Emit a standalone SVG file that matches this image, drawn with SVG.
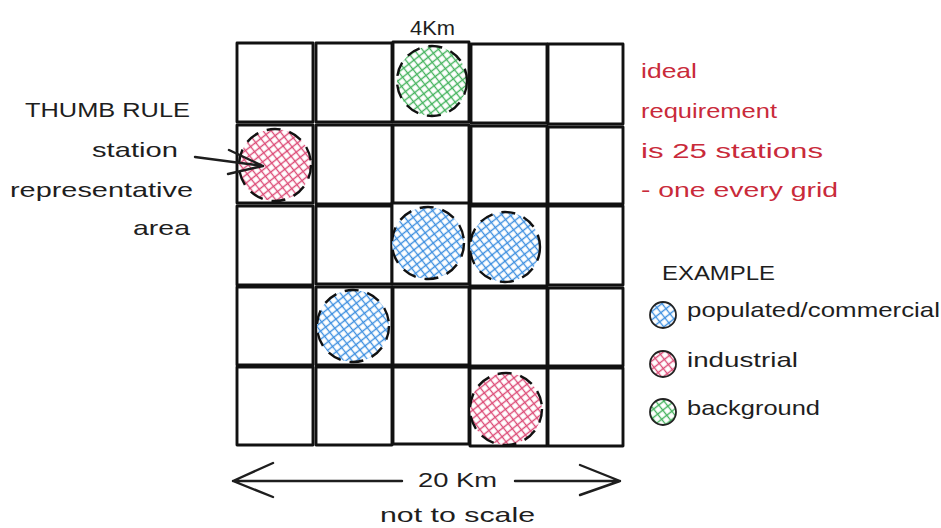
<svg xmlns="http://www.w3.org/2000/svg" width="941" height="528" viewBox="0 0 941 528">
<defs>
<pattern id="hb" width="6.5" height="6.5" patternUnits="userSpaceOnUse" patternTransform="rotate(-38)">
<rect width="6.5" height="6.5" fill="#fff"/><path d="M0 3.25H6.5M3.25 0V6.5" stroke="#3d8fe0" stroke-width="1.3"/>
</pattern>
<pattern id="hr" width="6.5" height="6.5" patternUnits="userSpaceOnUse" patternTransform="rotate(-38)">
<rect width="6.5" height="6.5" fill="#fff"/><path d="M0 3.25H6.5M3.25 0V6.5" stroke="#dc4a76" stroke-width="1.3"/>
</pattern>
<pattern id="hg" width="6.5" height="6.5" patternUnits="userSpaceOnUse" patternTransform="rotate(-38)">
<rect width="6.5" height="6.5" fill="#fff"/><path d="M0 3.25H6.5M3.25 0V6.5" stroke="#44b35d" stroke-width="1.3"/>
</pattern>
</defs>
<style>
.sq{fill:#fff;stroke:#111;stroke-width:2.9;stroke-linejoin:round}
.st{stroke:#111;stroke-width:2.4;stroke-dasharray:14 9}
.lg{stroke:#222;stroke-width:1.8}
.t{font-family:"Liberation Sans","DejaVu Sans",sans-serif;font-size:21px;fill:#1e1e1e}
.r{fill:#c92a3a}
.ln{stroke:#1e1e1e;stroke-width:2.4;fill:none;stroke-linecap:round;stroke-linejoin:round}
</style>
<rect width="941" height="528" fill="#fff"/>
<g id="grid">
<rect class="sq" x="237" y="43" width="76" height="79"/>
<rect class="sq" x="316" y="43" width="76" height="79"/>
<rect class="sq" x="393" y="42" width="76" height="80"/>
<rect class="sq" x="471" y="44" width="76" height="79"/>
<rect class="sq" x="548" y="44" width="75" height="80"/>
<rect class="sq" x="237" y="125" width="76" height="78"/>
<rect class="sq" x="316" y="125" width="76" height="79"/>
<rect class="sq" x="393" y="125" width="76" height="79"/>
<rect class="sq" x="471" y="126" width="76" height="78"/>
<rect class="sq" x="548" y="127" width="75" height="77"/>
<rect class="sq" x="237" y="206" width="76" height="79"/>
<rect class="sq" x="316" y="206" width="76" height="78"/>
<rect class="sq" x="392" y="203" width="77" height="81"/>
<rect class="sq" x="470" y="206" width="77" height="80"/>
<rect class="sq" x="548" y="206" width="75" height="79"/>
<rect class="sq" x="237" y="287" width="76" height="78"/>
<rect class="sq" x="316" y="287" width="76" height="78"/>
<rect class="sq" x="393" y="287" width="76" height="78"/>
<rect class="sq" x="470" y="288" width="77" height="78"/>
<rect class="sq" x="548" y="288" width="75" height="78"/>
<rect class="sq" x="237" y="367" width="76" height="78"/>
<rect class="sq" x="316" y="367" width="76" height="78"/>
<rect class="sq" x="393" y="367" width="76" height="77"/>
<rect class="sq" x="470" y="368" width="77" height="78"/>
<rect class="sq" x="548" y="368" width="75" height="78"/>
</g>
<g id="stations">
<circle class="st" cx="432" cy="81" r="35" fill="url(#hg)"/>
<circle class="st" cx="275" cy="165" r="36" fill="url(#hr)"/>
<circle class="st" cx="428" cy="243" r="36" fill="url(#hb)"/>
<circle class="st" cx="505" cy="247" r="35" fill="url(#hb)"/>
<circle class="st" cx="353" cy="326" r="36" fill="url(#hb)"/>
<circle class="st" cx="506" cy="409" r="36" fill="url(#hr)"/>
</g>
<g id="connectors">
<path class="ln" d="M195 157L263 166M229 150L263 166L228 174"/>
<path class="ln" d="M233 481L402 481M273 463L233 481L273 497"/>
<path class="ln" d="M515 481L620 481M580 465L620 481L580 495"/>
</g>
<g id="labels">
<text class="t" x="410" y="35" textLength="45" lengthAdjust="spacingAndGlyphs">4Km</text>
<text class="t" x="25" y="117" textLength="165" lengthAdjust="spacingAndGlyphs">THUMB RULE</text>
<text class="t" x="92" y="157" textLength="86" lengthAdjust="spacingAndGlyphs">station</text>
<text class="t" x="10" y="197" textLength="183" lengthAdjust="spacingAndGlyphs">representative</text>
<text class="t" x="133" y="235" textLength="57" lengthAdjust="spacingAndGlyphs">area</text>
</g>
<g id="note">
<text class="t r" x="641" y="78" textLength="56" lengthAdjust="spacingAndGlyphs">ideal</text>
<text class="t r" x="641" y="118" textLength="136" lengthAdjust="spacingAndGlyphs">requirement</text>
<text class="t r" x="641" y="158" textLength="182" lengthAdjust="spacingAndGlyphs">is 25 stations</text>
<text class="t r" x="641" y="197" textLength="197" lengthAdjust="spacingAndGlyphs">- one every grid</text>
</g>
<g id="legend">
<text class="t" x="662" y="280" textLength="113" lengthAdjust="spacingAndGlyphs">EXAMPLE</text>
<circle class="lg" cx="663" cy="315" r="13" fill="url(#hb)"/>
<text class="t" x="687" y="317" textLength="253" lengthAdjust="spacingAndGlyphs">populated/commercial</text>
<circle class="lg" cx="663" cy="364" r="13" fill="url(#hr)"/>
<text class="t" x="687" y="367" textLength="111" lengthAdjust="spacingAndGlyphs">industrial</text>
<circle class="lg" cx="663" cy="412" r="13" fill="url(#hg)"/>
<text class="t" x="687" y="415" textLength="133" lengthAdjust="spacingAndGlyphs">background</text>
</g>
<g id="scale">
<text class="t" x="418" y="487" textLength="79" lengthAdjust="spacingAndGlyphs">20 Km</text>
<text class="t" x="380" y="522" textLength="155" lengthAdjust="spacingAndGlyphs">not to scale</text>
</g>
</svg>
